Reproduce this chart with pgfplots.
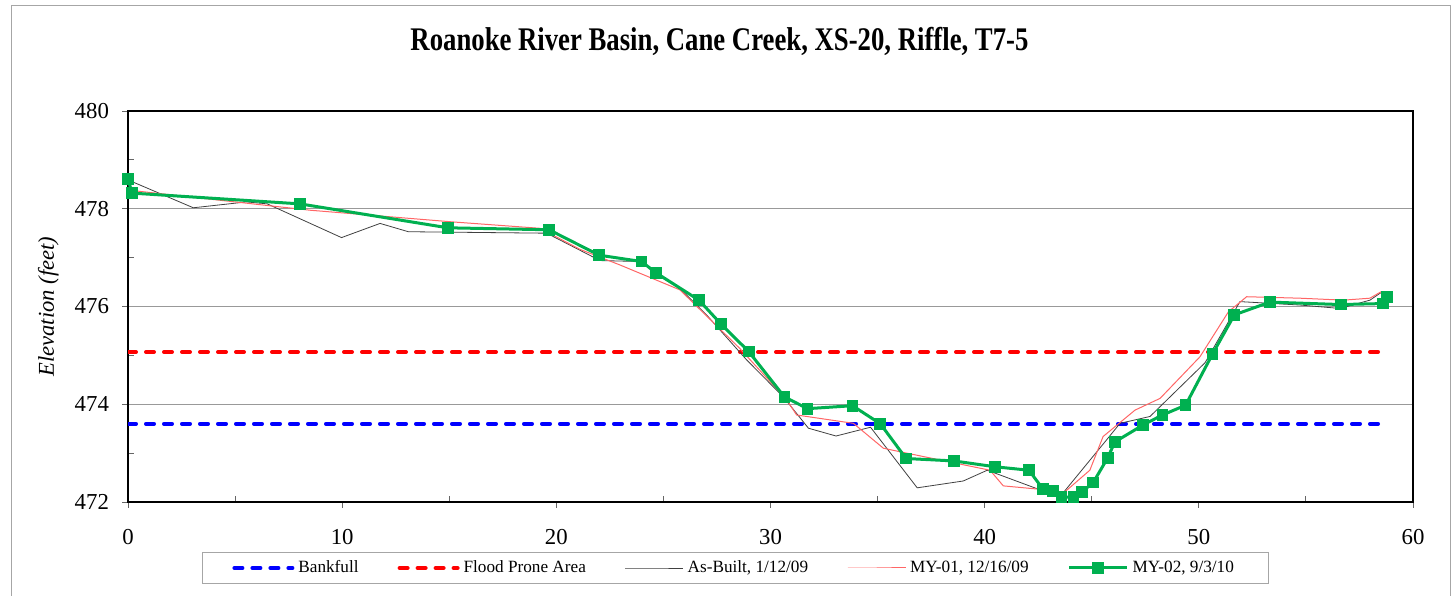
\documentclass[border=0pt]{standalone}
\usepackage{fontspec}
\setmainfont{Liberation Serif}
\usepackage{graphicx}
\usepackage{pgfplots}
\pgfplotsset{compat=1.18}
\definecolor{mygreen}{RGB}{0,176,80}
\begin{document}
\begin{tikzpicture}
\path[use as bounding box] (0,0) rectangle (728pt,297.5pt);
\draw[black!35, line width=0.5pt] (5.5pt,-2pt) -- (5.5pt,294.5pt) -- (725pt,294.5pt) -- (725pt,-2pt);
\begin{axis}[
  at={(64pt,46.5pt)}, anchor=south west,
  scale only axis, width=642.5pt, height=195.5pt,
  xmin=0, xmax=60, ymin=472, ymax=480,
  xtick={0,10,...,60}, ytick={472,474,...,480},
  minor x tick num=1, minor y tick num=1,
  tick pos=left,
  ymajorgrids, major grid style={black!40, line width=0.5pt},
  axis line style={line width=1pt},
  tick style={black!60, line width=0.5pt},
  tick align=inside, major tick length=-3pt, minor tick length=3pt,
  /pgf/number format/assume math mode=true,
  ticklabel style={font=\fontsize{11.4}{13}\selectfont},
  xticklabel style={yshift=-10pt},
  yticklabel style={xshift=-6pt},
  ylabel={\textit{Elevation (feet)}},
  ylabel style={at={(axis description cs:-0.0620,0.5)}, anchor=center, font=\fontsize{11.3}{13}\selectfont},
  title={\scalebox{0.81}[1]{Roanoke River Basin, Cane Creek, XS-20, Riffle, T7-5}},
  title style={at={(axis description cs:0.4603,1.1253)}, anchor=base, font=\bfseries\fontsize{16.5}{19}\selectfont},
  legend columns=5,
  legend cell align=left,
  legend style={at={(0.4725,-0.1688)}, anchor=center, draw=black!35, inner xsep=15pt,
    font=\fontsize{8.6}{10}\selectfont,
    /tikz/every even column/.append style={column sep=17.5pt}},
  legend image code/.code={\draw[mark repeat=2,mark phase=2,#1] plot coordinates {(0pt,0pt) (14.5pt,0pt) (29pt,0pt)};},
]
\addplot[blue, line width=2pt, dash pattern=on 4pt off 5pt, line cap=round] coordinates {(0,473.60) (58.8,473.60)};
\addlegendentry{Bankfull}
\addplot[red, line width=2pt, dash pattern=on 4pt off 5pt, line cap=round] coordinates {(0,475.07) (58.8,475.07)};
\addlegendentry{Flood Prone Area}
\addplot[black!75, line width=0.4pt] coordinates {
(0,478.59) (3.05,478.02) (5.54,478.14) (6.5,478.10) (9.97,477.41) (11.77,477.70) (13.09,477.53) (19.55,477.50)
(22.04,476.94) (23.98,476.92) (24.65,476.66) (25.77,476.37) (27.01,475.83) (28.88,474.91) (30.6,474.15)
(31.77,473.51) (33.06,473.35) (34.67,473.53) (36.85,472.29) (39.0,472.43) (40.12,472.65) (42.58,472.25)
(43.67,472.19) (45.69,473.27) (46.32,473.61) (47.72,473.75) (50.29,474.85) (51.92,476.10) (54.72,476.03)
(56.59,475.96) (57.99,476.13) (58.49,476.28)};
\addlegendentry{As-Built, 1/12/09}
\addplot[red!60, line width=0.5pt] coordinates {
(0.05,478.38) (8.5,477.97) (15.18,477.73) (19.24,477.60) (21.1,477.17) (22.97,476.85) (25.77,476.34)
(28.57,475.14) (30.76,474.09) (31.22,473.78) (33.87,473.61) (35.27,473.10) (36.36,473.0) (40.25,472.65)
(40.87,472.33) (42.58,472.26) (43.67,472.18) (44.91,472.65) (45.53,473.34) (47.02,473.88) (48.19,474.12)
(50.05,474.97) (51.38,475.89) (52.23,476.20) (54.72,476.17) (56.75,476.13) (57.99,476.17) (58.5,476.30)};
\addlegendentry{MY-01, 12/16/09}
\addplot[mygreen, line width=1.5pt, mark=square*, mark size=2.2pt, mark options={solid}] coordinates {
(0,478.61) (0.19,478.32) (8.03,478.10) (14.94,477.61) (19.66,477.57) (22.0,477.05) (23.98,476.92)
(24.65,476.69) (26.66,476.13) (27.69,475.64) (28.98,475.08) (30.65,474.15) (31.73,473.91) (33.83,473.97)
(35.13,473.60) (36.33,472.89) (38.57,472.84) (40.50,472.72) (42.07,472.65) (42.71,472.27) (43.19,472.22)
(43.59,472.10) (44.15,472.10) (44.53,472.20) (45.07,472.40) (45.74,472.90) (46.08,473.23) (47.41,473.58)
(48.30,473.78) (49.38,473.98) (50.64,475.03) (51.66,475.83) (53.32,476.09) (56.62,476.04) (58.58,476.06)
(58.77,476.20)};
\addlegendentry{MY-02, 9/3/10}
\end{axis}
\end{tikzpicture}
\end{document}
